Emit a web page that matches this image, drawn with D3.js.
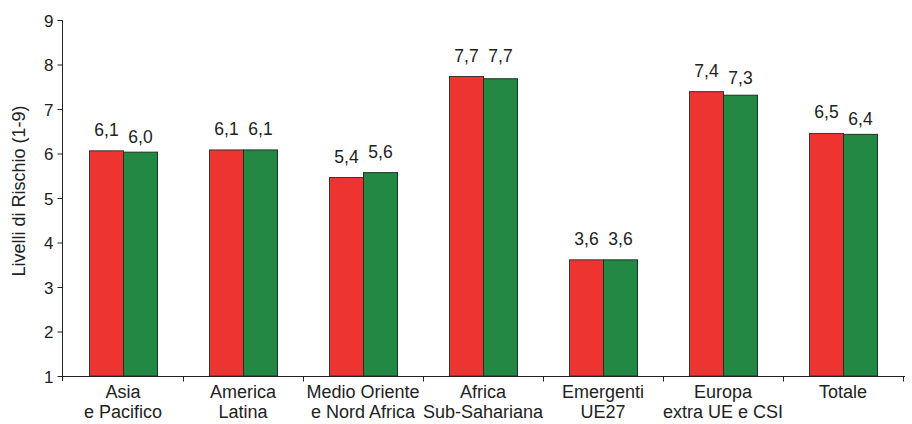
<!DOCTYPE html>
<html><head><meta charset="utf-8">
<script src="https://cdn.jsdelivr.net/npm/d3@7"></script>
<style>body{margin:0;background:#fff}svg{display:block}text{font-family:"Liberation Sans",Arial,sans-serif;fill:#222}</style>
</head><body><svg id="c" width="912" height="424"></svg>
<script>
const categories = [["Asia","e Pacifico"],["America","Latina"],["Medio Oriente","e Nord Africa"],["Africa","Sub-Sahariana"],["Emergenti","UE27"],["Europa","extra UE e CSI"],["Totale"]];
const serieA = [6.06, 6.08, 5.46, 7.73, 3.61, 7.39, 6.45];
const serieB = [6.03, 6.08, 5.57, 7.68, 3.61, 7.31, 6.43];
const labelsA = ["6,1","6,1","5,4","7,7","3,6","7,4","6,5"];
const labelsB = ["6,0","6,1","5,6","7,7","3,6","7,3","6,4"];
const yTicks = [1,2,3,4,5,6,7,8,9];
const yTitle = "Livelli di Rischio (1-9)";

const svg = d3.select("#c");
const x = d3.scaleBand().domain(d3.range(categories.length)).range([63,903]).paddingInner(0).paddingOuter(0);
const y = d3.scaleLinear().domain([1,9]).range([376,20]);
const bw = 34;
const red = "#ee3430", green = "#238843";

categories.forEach((c,i)=>{
  const cx = x(i) + x.bandwidth()/2;
  svg.append("rect").attr("x",cx-bw+0.5).attr("y",y(serieA[i])).attr("width",bw).attr("height",y(1)-y(serieA[i]))
    .attr("fill",red).attr("stroke","#3b3434").attr("stroke-width",1);
  svg.append("rect").attr("x",cx+0.5).attr("y",y(serieB[i])).attr("width",bw).attr("height",y(1)-y(serieB[i]))
    .attr("fill",green).attr("stroke","#1c3322").attr("stroke-width",1);
  let ya = y(serieA[i]) - 15, yb = y(serieB[i]) - 15;
  if (labelsA[i] === labelsB[i]) { ya = yb = Math.min(ya,yb); }
  else if (yb >= ya && yb - ya < 8) { yb = ya + 7; }
  svg.append("text").attr("x",cx-bw/2+0.5).attr("y",ya).attr("text-anchor","middle").attr("font-size",17.5).text(labelsA[i]);
  svg.append("text").attr("x",cx+bw/2+0.5).attr("y",yb).attr("text-anchor","middle").attr("font-size",17.5).text(labelsB[i]);
  c.forEach((ln,j)=>{
    svg.append("text").attr("x",cx).attr("y",398+j*20).attr("text-anchor","middle").attr("font-size",18).text(ln);
  });
});

const ya = svg.append("g").attr("transform","translate(62.5,0)")
  .call(d3.axisLeft(y).tickValues(yTicks).tickSize(5).tickPadding(4).tickFormat(d3.format("d")));
ya.select(".domain").attr("d","M0,20.5V381").attr("stroke","#222");
ya.selectAll(".tick line").attr("stroke","#222");
ya.selectAll(".tick text").attr("font-size",17).attr("font-family","Liberation Sans, Arial, sans-serif").attr("fill","#222").attr("dy","0.36em");

const xa = svg.append("g").attr("transform","translate(0,376.5)")
  .call(d3.axisBottom(d3.scaleLinear().domain([0,categories.length]).range([63,903])).tickValues(d3.range(1,categories.length+1)).tickSize(5).tickFormat(""));
xa.select(".domain").attr("d","M62,0H905").attr("stroke","#222");
xa.selectAll(".tick line").attr("stroke","#222");

svg.append("text").attr("transform","translate(25,191) rotate(-90)").attr("text-anchor","middle").attr("font-size",18).text(yTitle);
</script></body></html>
